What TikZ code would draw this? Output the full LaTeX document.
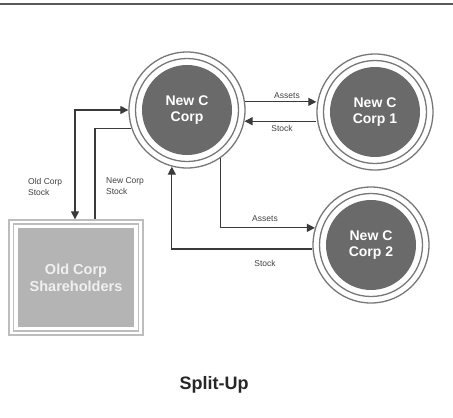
\documentclass[tikz,border=0pt]{standalone}
\usepackage{fontspec}
\setmainfont{Liberation Sans}
\usetikzlibrary{arrows.meta}
\definecolor{ringc}{HTML}{777777}
\definecolor{corpfill}{HTML}{6A6A6A}
\definecolor{boxline}{HTML}{BDBDBD}
\definecolor{boxfill}{HTML}{B4B4B4}
\definecolor{linec}{HTML}{3A3A3A}
\tikzset{
  corp/.style={circle, draw=ringc, line width=1.3pt, minimum size=116pt, inner sep=0pt,
    text=white, font=\fontsize{14}{16}\selectfont\bfseries, align=center,
    path picture={
      \draw[ringc, line width=1.3pt] (path picture bounding box.center) circle (51.5pt);
      \fill[corpfill] (path picture bounding box.center) circle (45pt);}},
  holders/.style={rectangle, draw=boxline, line width=1.3pt, minimum width=134pt, minimum height=115pt,
    inner sep=0pt, text=white!94!black, font=\fontsize{14.5}{17}\selectfont\bfseries, align=center,
    path picture={
      \draw[boxline, line width=1.3pt] ([shift={(-62.5pt,-53.5pt)}]path picture bounding box.center) rectangle ([shift={(62.5pt,53.5pt)}]path picture bounding box.center);
      \fill[boxfill] ([shift={(-58pt,-49.5pt)}]path picture bounding box.center) rectangle ([shift={(58pt,49.5pt)}]path picture bounding box.center);}},
  flow/.style={draw=linec, line width=1.2pt},
  arr/.style={flow, -{Triangle[length=8pt,width=8pt]}},
  lbl/.style={font=\fontsize{8.5}{11}\selectfont, text=black!75, align=left, inner sep=0pt},
}
\begin{document}
\begin{tikzpicture}[x=1pt,y=-1pt]
\useasboundingbox (0,0) rectangle (453,418);
\coordinate (tl) at (0,4);
\coordinate (tr) at (453,4);
\draw[black!65, line width=2pt] (tl) -- (tr);

\node[corp] (main) at (187,110) {New C\\Corp};
\node[corp] (c1) at (375,112) {New C\\Corp 1};
\node[corp] (c2) at (371,245) {New C\\Corp 2};
\node[holders] (box) at (76,277.5) {Old Corp\\Shareholders};

\coordinate (oc) at (75,0);
\coordinate (nc) at (95,0);

% Corp 1
\draw[arr] (main.8) -- (main.8 -| c1.west);
\draw[arr] (main.-11 -| c1.west) -- (main.-11);
\node[lbl] (la1) at (287,96) {Assets};
\node[lbl] (ls1) at (282,128) {Stock};

% Corp 2
\draw[arr] (main.-55.3) |- (c2.163);
\draw[arr] (c2.184) -| (main.-105);
\node[lbl] (la2) at (265,219) {Assets};
\node[lbl] (ls2) at (265,263) {Stock};

% Shareholders
\draw[flow, {Triangle[length=8pt,width=8pt]}-{Triangle[length=8pt,width=8pt]}] (main.west) -| (oc |- box.north);
\draw[flow] (main.198) -| (nc |- box.north);
\node[lbl, anchor=west] (lo) at (28,186.5) {Old Corp\\Stock};
\node[lbl, anchor=west] (ln) at (106,186.5) {New Corp\\Stock};

\node[font=\fontsize{18}{20}\selectfont\bfseries, text=black!85] (title) at (214,385) {Split-Up};
\end{tikzpicture}
\end{document}
